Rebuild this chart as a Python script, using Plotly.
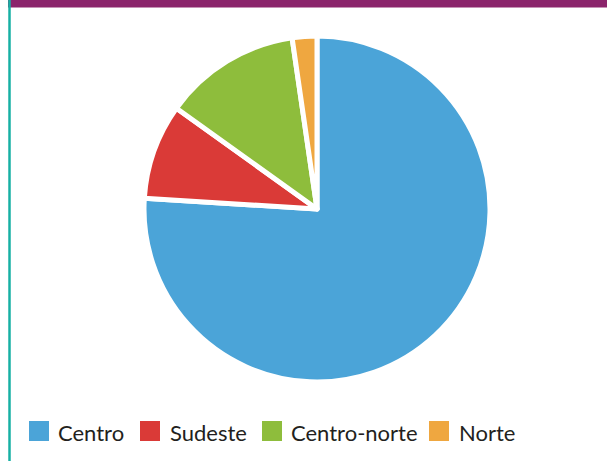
import plotly.graph_objects as go

labels = ["Centro", "Sudeste", "Centro-norte", "Norte"]
values = [76.0, 8.9, 12.8, 2.3]
colors = ["#4BA4D8", "#DA3A37", "#8EBD3C", "#EFA740"]

W, H = 607, 461
cx, cy, r = 317, 209, 173

fig = go.Figure(go.Pie(
    labels=labels, values=values, sort=False, direction="clockwise", rotation=0,
    marker=dict(colors=colors, line=dict(color="white", width=5)),
    textinfo="none", hoverinfo="label+percent", showlegend=False,
    domain=dict(x=[(cx - r) / W, (cx + r) / W], y=[1 - (cy + r) / H, 1 - (cy - r) / H]),
))

# custom legend (square swatches + labels), positioned in pixels
sq_x = [29, 140, 262, 429]
txt_x = [56, 168, 289, 457]
sq = 20
ly = 431

shapes = [
    dict(type="rect", xref="paper", yref="paper", x0=8 / W, x1=1, y0=1 - 7.5 / H, y1=1,
         fillcolor="#8B246B", line=dict(width=0), layer="above"),
    dict(type="line", xref="paper", yref="paper", x0=9.5 / W, x1=9.5 / W, y0=0, y1=1,
         line=dict(color="#17B0A4", width=2.5), layer="above"),
]
annotations = []
for lab, col, sx, tx in zip(labels, colors, sq_x, txt_x):
    shapes.append(dict(type="rect", xref="paper", yref="paper",
                       x0=sx / W, x1=(sx + sq) / W,
                       y0=1 - (ly + sq / 2) / H, y1=1 - (ly - sq / 2) / H,
                       fillcolor=col, line=dict(width=0)))
    annotations.append(dict(text=lab, xref="paper", yref="paper", x=tx / W, y=1 - (ly + 1) / H,
                            xanchor="left", yanchor="middle", showarrow=False,
                            font=dict(family="Lato, Open Sans, sans-serif", size=22, color="#231F20")))

fig.update_layout(
    width=W, height=H, margin=dict(l=0, r=0, t=0, b=0),
    paper_bgcolor="white", plot_bgcolor="white",
    shapes=shapes, annotations=annotations,
)

fig.write_html("out.html", config={"displayModeBar": False},
               post_script="document.body.style.margin='0';document.body.style.overflow='hidden';")
